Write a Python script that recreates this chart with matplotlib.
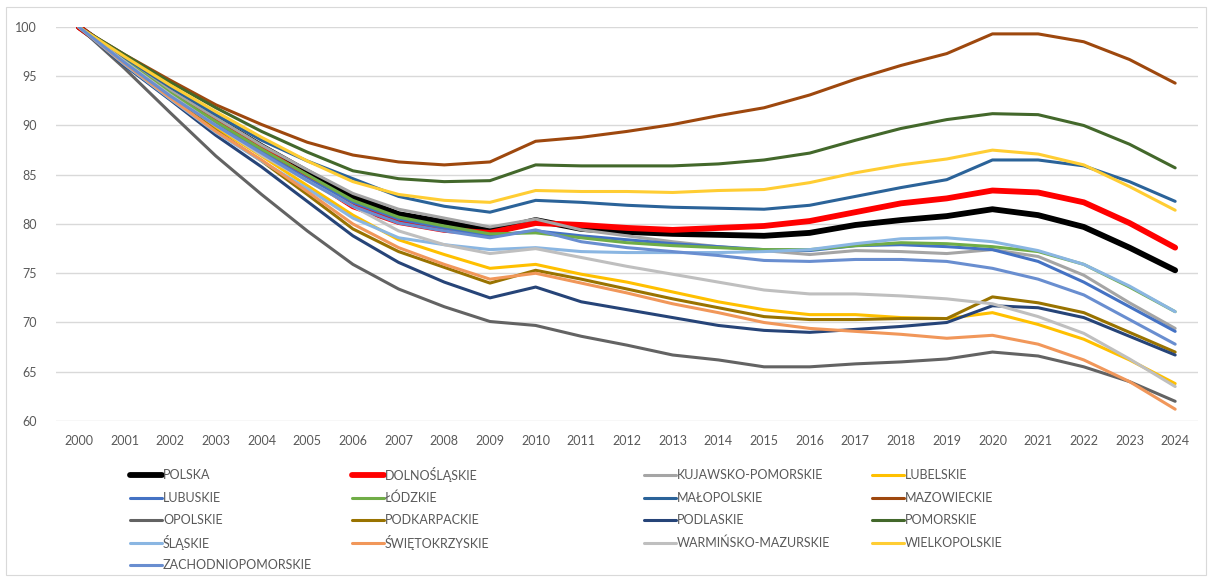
#%% libraries
import matplotlib
matplotlib.use("Agg")
import matplotlib.pyplot as plt
from matplotlib.lines import Line2D
from matplotlib.patches import Rectangle

#%% data
years = [str(y) for y in range(2000, 2025)]

polska = [100, 96.7, 93.5, 90.7, 87.9, 85.3, 82.8, 81.0, 80.2, 79.3, 80.4, 79.5, 79.2, 79.0, 78.9, 78.8, 79.1, 79.9, 80.4, 80.8, 81.5, 80.9, 79.7, 77.6, 75.3]
dolnoslaskie = [100, 96.6, 93.3, 90.4, 87.6, 84.8, 81.8, 80.2, 79.4, 79.1, 80.1, 79.9, 79.6, 79.4, 79.6, 79.8, 80.3, 81.2, 82.1, 82.6, 83.4, 83.2, 82.2, 80.1, 77.6]
kujawsko_pomorskie = [100, 96.8, 93.6, 90.8, 88.0, 85.5, 83.1, 81.5, 80.6, 79.7, 80.5, 79.4, 78.8, 78.2, 77.7, 77.3, 76.9, 77.3, 77.2, 77.0, 77.4, 76.7, 74.8, 72.0, 69.4]
lubelskie = [100, 96.4, 93.0, 89.8, 86.9, 83.9, 80.9, 78.4, 76.9, 75.5, 75.9, 74.9, 74.1, 73.1, 72.1, 71.3, 70.8, 70.8, 70.5, 70.4, 71.0, 69.8, 68.3, 66.2, 63.8]
lubuskie = [100, 96.5, 93.1, 90.2, 87.3, 84.6, 82.2, 80.5, 79.6, 78.8, 79.3, 78.8, 78.4, 78.0, 77.7, 77.4, 77.3, 77.8, 77.9, 77.7, 77.4, 76.2, 74.1, 71.6, 69.1]
lodzkie = [100, 96.6, 93.3, 90.4, 87.6, 85.0, 82.4, 80.7, 79.8, 79.0, 79.1, 78.6, 78.1, 77.8, 77.6, 77.4, 77.4, 77.8, 78.1, 78.0, 77.7, 77.2, 75.9, 73.6, 71.1]
malopolskie = [100, 96.9, 93.9, 91.1, 88.5, 86.4, 84.6, 82.8, 81.8, 81.2, 82.4, 82.2, 81.9, 81.7, 81.6, 81.5, 81.9, 82.8, 83.7, 84.5, 86.5, 86.5, 85.9, 84.3, 82.3]
mazowieckie = [100, 97.2, 94.6, 92.1, 90.1, 88.3, 87.0, 86.3, 86.0, 86.3, 88.4, 88.8, 89.4, 90.1, 91.0, 91.8, 93.1, 94.7, 96.1, 97.3, 99.3, 99.3, 98.5, 96.7, 94.3]
opolskie = [100, 95.8, 91.3, 86.9, 83.0, 79.3, 75.9, 73.4, 71.6, 70.1, 69.7, 68.6, 67.7, 66.7, 66.2, 65.5, 65.5, 65.8, 66.0, 66.3, 67.0, 66.6, 65.5, 64.0, 62.0]
podkarpackie = [100, 96.3, 92.9, 89.5, 86.4, 83.0, 79.5, 77.2, 75.6, 74.0, 75.3, 74.4, 73.4, 72.4, 71.5, 70.6, 70.3, 70.3, 70.4, 70.4, 72.6, 72.0, 71.0, 69.0, 67.0]
podlaskie = [100, 96.1, 92.6, 89.0, 85.8, 82.3, 78.8, 76.1, 74.1, 72.5, 73.6, 72.1, 71.3, 70.5, 69.7, 69.2, 69.0, 69.3, 69.6, 70.0, 71.7, 71.5, 70.5, 68.6, 66.7]
pomorskie = [100, 97.2, 94.4, 91.8, 89.4, 87.3, 85.4, 84.6, 84.3, 84.4, 86.0, 85.9, 85.9, 85.9, 86.1, 86.5, 87.2, 88.5, 89.7, 90.6, 91.2, 91.1, 90.0, 88.1, 85.7]
slaskie = [100, 96.2, 92.7, 89.3, 86.4, 83.6, 80.6, 78.6, 77.9, 77.4, 77.6, 77.2, 77.1, 77.1, 77.1, 77.2, 77.4, 78.0, 78.5, 78.6, 78.2, 77.3, 75.9, 73.7, 71.1]
swietokrzyskie = [100, 96.3, 92.8, 89.4, 86.5, 83.3, 80.0, 77.6, 75.9, 74.4, 75.0, 74.0, 73.0, 71.9, 71.0, 70.0, 69.4, 69.1, 68.8, 68.4, 68.7, 67.8, 66.2, 64.0, 61.2]
warminsko_mazurskie = [100, 96.5, 93.1, 90.0, 87.0, 84.4, 81.8, 79.3, 77.9, 77.0, 77.5, 76.6, 75.7, 74.9, 74.1, 73.3, 72.9, 72.9, 72.7, 72.4, 71.9, 70.6, 68.9, 66.3, 63.5]
wielkopolskie = [100, 97.0, 94.1, 91.4, 88.8, 86.4, 84.3, 83.0, 82.4, 82.2, 83.4, 83.3, 83.3, 83.2, 83.4, 83.5, 84.2, 85.2, 86.0, 86.6, 87.5, 87.1, 86.0, 83.8, 81.4]
zachodniopomorskie = [100, 96.4, 93.0, 90.0, 87.2, 84.4, 81.8, 80.1, 79.3, 78.6, 79.4, 78.2, 77.6, 77.2, 76.8, 76.3, 76.2, 76.4, 76.4, 76.2, 75.5, 74.4, 72.8, 70.3, 67.8]

names = ["POLSKA", "DOLNOŚLĄSKIE", "KUJAWSKO-POMORSKIE", "LUBELSKIE",
         "LUBUSKIE", "ŁÓDZKIE", "MAŁOPOLSKIE", "MAZOWIECKIE",
         "OPOLSKIE", "PODKARPACKIE", "PODLASKIE", "POMORSKIE",
         "ŚLĄSKIE", "ŚWIĘTOKRZYSKIE", "WARMIŃSKO-MAZURSKIE", "WIELKOPOLSKIE",
         "ZACHODNIOPOMORSKIE"]
series = [polska, dolnoslaskie, kujawsko_pomorskie, lubelskie,
          lubuskie, lodzkie, malopolskie, mazowieckie,
          opolskie, podkarpackie, podlaskie, pomorskie,
          slaskie, swietokrzyskie, warminsko_mazurskie, wielkopolskie,
          zachodniopomorskie]
colors = ["#000000", "#FF0000", "#A5A5A5", "#FFC000",
          "#4472C4", "#70AD47", "#2B6399", "#9E480E",
          "#636363", "#997300", "#264478", "#43682B",
          "#8AB6E2", "#F1975A", "#BFBFBF", "#FFCD33",
          "#698ED0"]
widths = [4.2, 4.2] + [2.2] * 15

#%% plot
plt.rcParams['font.family'] = ['Lato', 'DejaVu Sans']

W, H = 1213, 578
fig = plt.figure(figsize=(W / 100, H / 100), dpi=100)
fig.add_artist(Rectangle((6 / W, 3 / H), 1200 / W, 568 / H, transform=fig.transFigure,
                         fill=False, edgecolor="#D9D9D9", lw=0.8))

ax = fig.add_axes([56 / W, 1 - 421 / H, 1142 / W, 394 / H])
x = list(range(len(years)))
lines = []
for vals, c, lw in zip(series, colors, widths):
    ln, = ax.plot(x, vals, color=c, lw=lw, solid_joinstyle="round", solid_capstyle="round")
    lines.append(ln)

ax.set_xlim(-0.5, len(years) - 0.5)
ax.set_ylim(60, 100)
ax.set_yticks(range(60, 101, 5))
ax.set_xticks(x)
ax.set_xticklabels(years)
ax.grid(axis="y", color="#D9D9D9", lw=1)
ax.set_axisbelow(True)
for s in ax.spines.values():
    s.set_visible(False)
ax.tick_params(length=0, labelsize=9, colors="#595959")
ax.tick_params(axis="x", pad=10)
ax.tick_params(axis="y", pad=14)

#%% legend, laid out in rows like the original
col_x = [130, 352, 644, 872]
row_y = [475, 498, 520, 543, 565]
for i, (name, c, lw) in enumerate(zip(names, colors, widths)):
    r, k = divmod(i, 4)
    x0 = col_x[k]
    y0 = 1 - row_y[r] / H
    fig.add_artist(Line2D([x0 / W, (x0 + 32) / W], [y0, y0], transform=fig.transFigure,
                          color=c, lw=lw, solid_capstyle="round"))
    fig.text((x0 + 33) / W, y0, name, fontsize=9, color="#595959", va="center", ha="left")

fig.savefig("out.png", dpi=100)
